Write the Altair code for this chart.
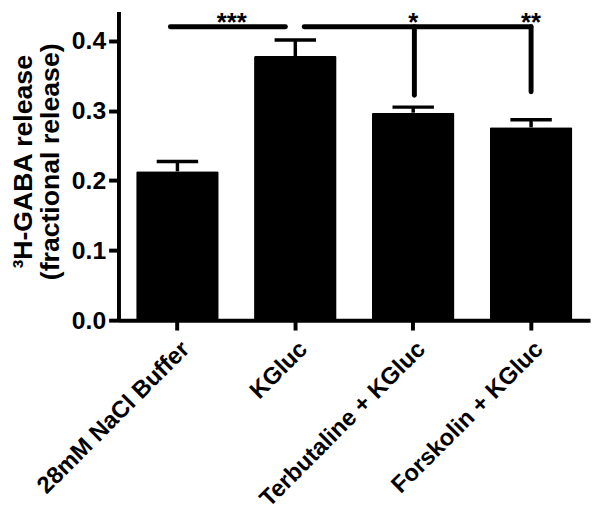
import altair as alt
import pandas as pd

# ---- data ----
categories = ["28mM NaCl Buffer", "KGluc", "Terbutaline + KGluc", "Forskolin + KGluc"]
means = [0.213, 0.378, 0.297, 0.276]
sems = [0.014, 0.023, 0.008, 0.011]

# significance brackets (x in category-index units, y in data units)
seg_x = [-0.06, 1.075, 2.01, 3.0]
seg_x2 = [0.916, 3.0, 2.01, 3.0]
seg_y = [0.420, 0.420, 0.420, 0.420]
seg_y2 = [0.420, 0.420, 0.322, 0.327]

star_labels = ["***", "*", "**"]
star_x = [0.46, 2.0, 3.0]
star_y = [0.442, 0.442, 0.442]

y_ticks = [0.0, 0.1, 0.2, 0.3, 0.4]
y_max = 0.442

FONT = "Liberation Sans"

bars_df = pd.DataFrame({"cat": categories, "mean": means, "sem": sems})
seg_df = pd.DataFrame({"x": seg_x, "x2": seg_x2, "y": seg_y, "y2": seg_y2})
star_df = pd.DataFrame({"label": star_labels, "x": star_x, "y": star_y})

yscale = alt.Scale(domain=[0, y_max], nice=False, zero=True)
xband = alt.Scale(paddingInner=0.3, paddingOuter=0.15)

xenc = alt.X(
    "cat:N",
    sort=categories,
    scale=xband,
    title=None,
    axis=alt.Axis(
        labelAngle=-45,
        labelFontSize=24,
        labelFontWeight="bold",
        labelColor="black",
        labelPadding=7,
        labelFont=FONT,
        domainColor="black",
        domainWidth=4,
        tickColor="black",
        tickWidth=4,
        tickSize=10,
        labelLimit=400,
    ),
)

yenc = alt.Y(
    "mean:Q",
    scale=yscale,
    title=["\u00b3H-GABA release", "(fractional release)"],
    axis=alt.Axis(
        values=y_ticks,
        format=".1f",
        grid=False,
        labelFontSize=25,
        labelFontWeight="bold",
        labelColor="black",
        labelFont=FONT,
        labelPadding=3,
        domainColor="black",
        domainWidth=4,
        tickColor="black",
        tickWidth=4,
        tickSize=10,
        titleFontSize=27,
        titleFontWeight="bold",
        titleColor="black",
        titleFont=FONT,
        titleLineHeight=27,
        titleAngle=270,
        titleAlign="center",
        titleBaseline="middle",
        titleX=-96,
        titleY=152,
    ),
)

base = alt.Chart(bars_df)

bars = base.mark_bar(color="black", cornerRadius=1.5).encode(x=xenc, y=yenc)

stems = base.transform_calculate(upper="datum.mean + datum.sem").mark_rule(
    color="black", strokeWidth=3.5
).encode(
    x=alt.X("cat:N", sort=categories, scale=xband),
    y=alt.Y("mean:Q", scale=yscale),
    y2="upper:Q",
)

caps = base.transform_calculate(upper="datum.mean + datum.sem").mark_tick(
    color="black", orient="horizontal", size=42, thickness=3.5, opacity=1
).encode(
    x=alt.X("cat:N", sort=categories, scale=xband),
    y=alt.Y("upper:Q", scale=yscale),
)

band_layer = alt.layer(bars, stems, caps)

xq = alt.Scale(domain=[-0.5, 3.5], nice=False, zero=False)

brackets = alt.Chart(seg_df).mark_rule(
    color="black", strokeWidth=5, strokeCap="round"
).encode(
    x=alt.X("x:Q", scale=xq, axis=None),
    x2="x2:Q",
    y=alt.Y("y:Q", scale=yscale),
    y2="y2:Q",
)

stars = alt.Chart(star_df).mark_text(
    font=FONT, fontSize=26, fontWeight="bold", color="black",
    baseline="top", align="center", dy=-1,
).encode(
    x=alt.X("x:Q", scale=xq, axis=None),
    y=alt.Y("y:Q", scale=yscale),
    text="label:N",
)

annot = alt.layer(brackets, stars)

chart = (
    alt.layer(band_layer, annot)
    .resolve_scale(x="independent")
    .properties(
        width=478,
        height=313,
        autosize=alt.AutoSizeParams(type="none"),
        padding={"left": 112, "top": 0, "right": 2, "bottom": 190},
        background="white",
    )
    .configure_view(stroke=None)
)

chart.save("out.html", embed_options={"renderer": "svg", "actions": False})
